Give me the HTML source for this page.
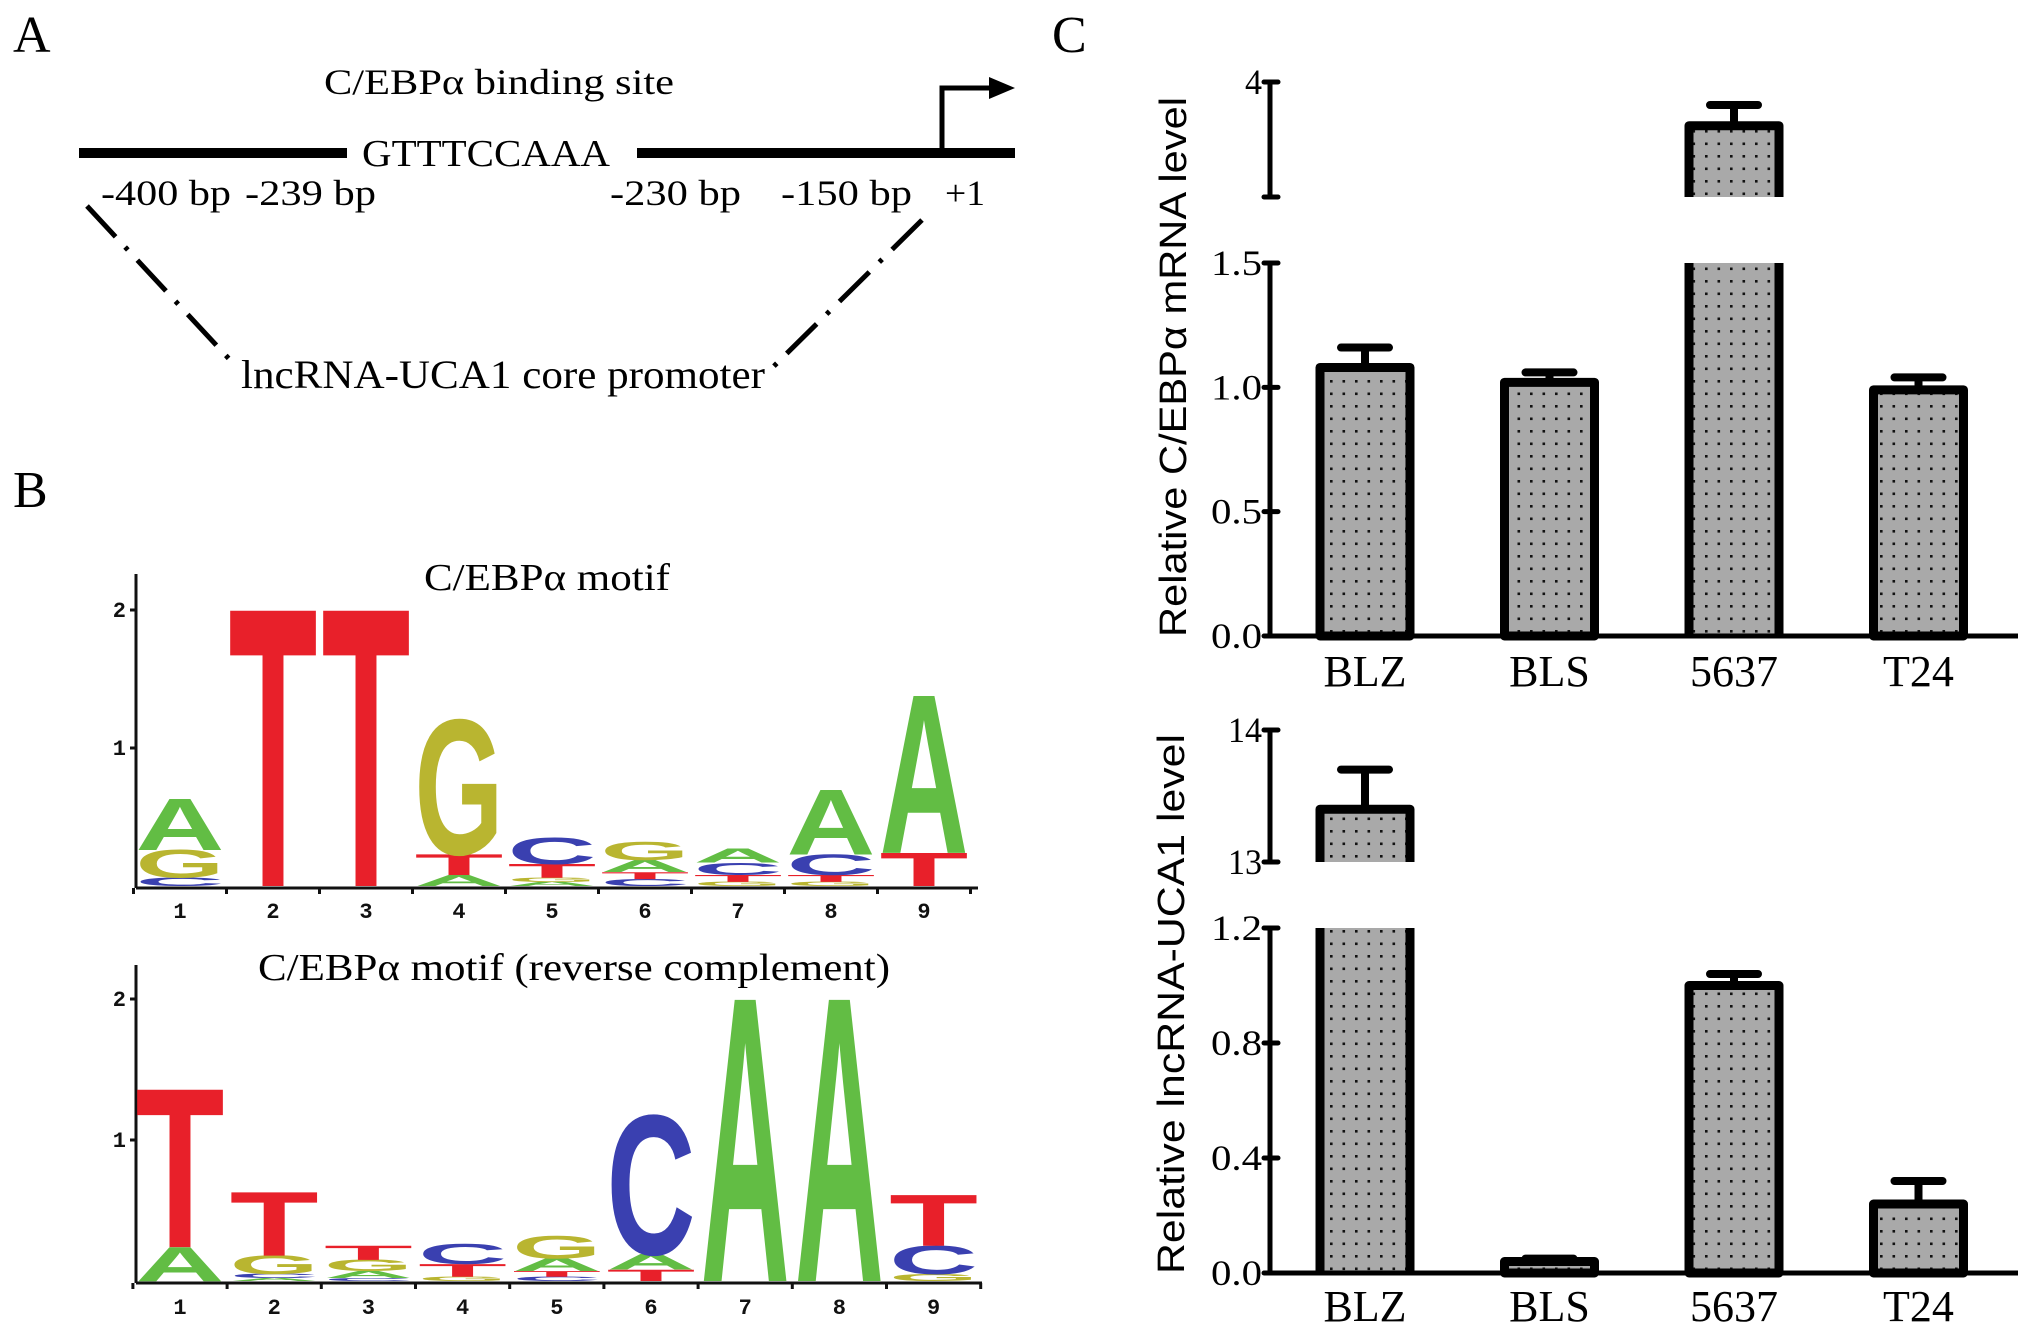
<!DOCTYPE html>
<html>
<head>
<meta charset="utf-8">
<style>
html,body{margin:0;padding:0;background:#fff;}
svg{display:block;}
.serif{font-family:"Liberation Serif",serif;fill:#000;}
.sans{font-family:"Liberation Sans",sans-serif;fill:#000;}
.mono{font-family:"Liberation Mono",monospace;font-weight:bold;fill:#111;}
</style>
</head>
<body>
<svg id="fig" width="2031" height="1337" viewBox="0 0 2031 1337" xmlns="http://www.w3.org/2000/svg">
<defs>
<pattern id="dots" width="12.5" height="12.5" patternUnits="userSpaceOnUse">
<rect width="12.5" height="12.5" fill="#a9a9a9"/>
<rect x="5" y="5" width="2.6" height="2.6" fill="#111"/>
</pattern>
</defs>

<!-- Panel A -->
<g>
<text class="serif" x="13" y="52" font-size="52">A</text>
<text class="serif" x="324" y="94" font-size="36" textLength="350" lengthAdjust="spacingAndGlyphs">C/EBPα binding site</text>
<rect x="79" y="148" width="268" height="10" fill="#000"/>
<text class="serif" x="362" y="166" font-size="38" textLength="248" lengthAdjust="spacingAndGlyphs">GTTTCCAAA</text>
<rect x="637" y="148" width="378" height="10" fill="#000"/>
<path d="M942 150 V88 H992" stroke="#000" stroke-width="5" fill="none"/>
<polygon points="989,77 1015,88 989,99" fill="#000"/>
<text class="serif" x="101" y="205" font-size="36" textLength="130" lengthAdjust="spacingAndGlyphs">-400 bp</text>
<text class="serif" x="245" y="205" font-size="36" textLength="131" lengthAdjust="spacingAndGlyphs">-239 bp</text>
<text class="serif" x="610" y="205" font-size="36" textLength="131" lengthAdjust="spacingAndGlyphs">-230 bp</text>
<text class="serif" x="781" y="205" font-size="36" textLength="131" lengthAdjust="spacingAndGlyphs">-150 bp</text>
<text class="serif" x="945" y="205" font-size="36" textLength="40" lengthAdjust="spacingAndGlyphs">+1</text>
<line x1="87" y1="206" x2="231" y2="361" stroke="#000" stroke-width="5" stroke-dasharray="42 14 4 14"/>
<line x1="922" y1="220" x2="771" y2="369" stroke="#000" stroke-width="5" stroke-dasharray="42 14 4 14"/>
<text class="serif" x="241" y="388" font-size="40" textLength="524" lengthAdjust="spacingAndGlyphs">lncRNA-UCA1 core promoter</text>
</g>

<!-- Panel B -->
<g>
<text class="serif" x="13" y="507" font-size="52">B</text>
<text class="serif" x="424" y="590" font-size="38" textLength="246" lengthAdjust="spacingAndGlyphs">C/EBPα motif</text>
<text class="serif" x="258" y="980" font-size="38" textLength="632" lengthAdjust="spacingAndGlyphs">C/EBPα motif (reverse complement)</text>
<g id="logo1"></g>
<g id="logo2"></g>
</g>

<!-- Panel C -->
<g>
<text class="serif" x="1052" y="52" font-size="52">C</text>
<g id="chart1"></g>
<g id="chart2"></g>
</g>
</svg>

<script>
// ---------- Bar chart data ----------
const categories = ['BLZ', 'BLS', '5637', 'T24'];
const mrnaValues = [1.08, 1.02, 3.62, 0.99];
const mrnaErrors = [0.08, 0.04, 0.18, 0.05];
const mrnaLowTicks = [0, 0.5, 1.0, 1.5];
const mrnaLowTickLabels = ['0.0', '0.5', '1.0', '1.5'];
const mrnaHighTicks = [3, 4];
const mrnaHighTickLabels = ['', '4'];
const ucaValues = [13.4, 0.04, 1.0, 0.24];
const ucaErrors = [0.3, 0.01, 0.04, 0.08];
const ucaLowTicks = [0, 0.4, 0.8, 1.2];
const ucaLowTickLabels = ['0.0', '0.4', '0.8', '1.2'];
const ucaHighTicks = [13, 14];
const ucaHighTickLabels = ['13', '14'];

// ---------- Sequence logo data (bottom-up stacks, bits) ----------
const motifLetters = [
  ['C','G','A'], ['T'], ['T'], ['A','T','G'], ['A','G','T','C'],
  ['C','T','A','G'], ['G','T','C','A'], ['G','T','C','A'], ['T','A']
];
const motifHeights = [
  [0.06,0.2,0.37], [2.0], [2.0], [0.08,0.15,0.97], [0.03,0.03,0.1,0.19],
  [0.05,0.05,0.09,0.13], [0.03,0.05,0.09,0.1], [0.03,0.05,0.15,0.47], [0.24,1.14]
];
const revLetters = [
  ['A','T'], ['A','C','G','T'], ['C','A','G','T'], ['G','T','C'], ['C','T','A','G'],
  ['T','A','C'], ['A'], ['A'], ['G','C','T']
];
const revHeights = [
  [0.24,1.12], [0.02,0.03,0.13,0.45], [0.02,0.05,0.08,0.1], [0.03,0.09,0.14], [0.03,0.04,0.09,0.16],
  [0.08,0.11,0.98], [2.0], [2.0], [0.05,0.2,0.36]
];
const positions = ['1','2','3','4','5','6','7','8','9'];
const logoTicks = [1, 2];

const NS = 'http://www.w3.org/2000/svg';
const letterColor = {A:'#62bd44', C:'#3a40b0', G:'#b9b530', T:'#e8202a'};

function mk(parent, tag, attrs) {
  const e = document.createElementNS(NS, tag);
  for (const k in attrs) e.setAttribute(k, attrs[k]);
  parent.appendChild(e);
  return e;
}

function drawLogo(gid, letters, heights, cfg) {
  const g = document.getElementById(gid);
  const y = v => cfg.base - v * cfg.unit;
  const xc = i => cfg.x0 + i * cfg.step;
  const ya = mk(g, 'line', {x1: cfg.axisX, y1: cfg.top, x2: cfg.axisX, y2: cfg.base + 2, stroke: '#111', 'stroke-width': 3});
  
  
  const xa = mk(g, 'line', {x1: cfg.axisX, y1: cfg.base + 2, x2: cfg.axisEnd, y2: cfg.base + 2, stroke: '#111', 'stroke-width': 3});
  
  
  logoTicks.forEach(t => {
    mk(g, 'line', {x1: cfg.axisX - 6, y1: y(t), x2: cfg.axisX, y2: y(t), stroke: '#111', 'stroke-width': 3});
    const tl = mk(g, 'text', {x: cfg.axisX - 10, y: y(t) + 7, 'text-anchor': 'end', 'font-size': 22, class: 'mono'});
    tl.textContent = String(t);
    
    
  });
  for (let i = 0; i <= positions.length; i++) {
    const bx = xc(i) - cfg.step / 2;
    mk(g, 'line', {x1: bx, y1: cfg.base + 2, x2: bx, y2: cfg.base + 8, stroke: '#111', 'stroke-width': 3});
  }
  positions.forEach((p, i) => {
    const t = mk(g, 'text', {x: xc(i), y: cfg.labelY, 'text-anchor': 'middle', 'font-size': 22, class: 'mono'});
    t.textContent = p;
    
    
  });
  letters.forEach((col, i) => {
    let acc = 0;
    col.forEach((L, j) => {
      const h = heights[i][j];
      const yb = y(acc);
      acc += h;
      const t = mk(g, 'text', {x: 0, y: 0, 'font-size': 100, 'font-family': '"Liberation Sans", sans-serif', 'font-weight': 'bold', fill: letterColor[L]});
      t.textContent = L;
      
      
      const bb = t.getBBox();
      const inkW = bb.width * 0.9;
      const sx = cfg.w / inkW;
      const sy = (h * cfg.unit) / 69;
      const left = xc(i) - cfg.w / 2 - bb.x * sx - bb.width * 0.05 * sx;
      t.setAttribute('transform', 'translate(' + left + ',' + yb + ') scale(' + sx + ',' + sy + ')');
    });
  });
}

drawLogo('logo1', motifLetters, motifHeights, {x0: 180, step: 93, w: 80, base: 886, unit: 138, axisX: 136, axisEnd: 978, top: 574, labelY: 918});
drawLogo('logo2', revLetters, revHeights, {x0: 180, step: 94.2, w: 80, base: 1281, unit: 141, axisX: 136, axisEnd: 982, top: 965, labelY: 1314});

function drawBars(gid, vals, errs, lowTicks, lowLabels, highTicks, highLabels, cfg, title) {
  const g = document.getElementById(gid);
  const lowMax = lowTicks[lowTicks.length - 1];
  const hiMin = highTicks[0], hiMax = highTicks[highTicks.length - 1];
  function y(v) {
    if (v <= lowMax) return cfg.y0 - (v / lowMax) * (cfg.y0 - cfg.yLowTop);
    return cfg.yHiBot - ((v - hiMin) / (hiMax - hiMin)) * (cfg.yHiBot - cfg.yHiTop);
  }
  const xc = i => cfg.x0 + i * cfg.step;
  const bw = cfg.bw;
  vals.forEach((v, i) => {
    const l = xc(i) - bw / 2, r = xc(i) + bw / 2;
    const e = errs[i];
    const bar = mk(g, 'g', {});
    
    
    const sw = 9;
    if (v > lowMax) {
      mk(bar, 'rect', {x: l, y: y(lowMax), width: bw, height: y(0) - y(lowMax), fill: 'url(#dots)'});
      mk(bar, 'path', {d: 'M' + l + ' ' + y(0) + ' V' + y(lowMax) + ' M' + r + ' ' + y(0) + ' V' + y(lowMax), stroke: '#000', 'stroke-width': sw, fill: 'none'});
      mk(bar, 'rect', {x: l, y: y(v), width: bw, height: y(hiMin) - y(v), fill: 'url(#dots)'});
      mk(bar, 'path', {d: 'M' + l + ' ' + y(hiMin) + ' V' + y(v) + ' H' + r + ' V' + y(hiMin), stroke: '#000', 'stroke-width': sw, fill: 'none', 'stroke-linejoin': 'round'});
    } else {
      mk(bar, 'rect', {x: l, y: y(v), width: bw, height: y(0) - y(v), fill: 'url(#dots)', stroke: '#000', 'stroke-width': sw, 'stroke-linejoin': 'round'});
    }
    const eb = mk(g, 'path', {d: 'M' + xc(i) + ' ' + y(v) + ' V' + y(v + e) + ' M' + (xc(i) - 24) + ' ' + y(v + e) + ' H' + (xc(i) + 24), stroke: '#000', 'stroke-width': 8, 'stroke-linecap': 'round', fill: 'none'});
    
    
    const lab = mk(g, 'text', {x: xc(i), y: cfg.labelY, 'text-anchor': 'middle', 'font-size': 44, class: 'serif'});
    lab.textContent = categories[i];
    
    
  });
  const ax = mk(g, 'path', {d: 'M' + cfg.ax + ' ' + y(0) + ' V' + y(lowMax) + ' M' + cfg.ax + ' ' + y(hiMin) + ' V' + y(hiMax), stroke: '#000', 'stroke-width': 5, fill: 'none'});
  
  
  const xa = mk(g, 'line', {x1: cfg.ax, y1: y(0), x2: cfg.axEnd, y2: y(0), stroke: '#000', 'stroke-width': 5});
  
  
  function tick(v, label) {
    mk(g, 'line', {x1: cfg.ax - 6, y1: y(v), x2: cfg.ax + 8, y2: y(v), stroke: '#000', 'stroke-width': 5, 'stroke-linecap': 'round'});
    if (label) {
      const t = mk(g, 'text', {x: cfg.ax - 8, y: y(v) + 12, 'text-anchor': 'end', 'font-size': 36, class: 'serif', textLength: label.length * 17, lengthAdjust: 'spacingAndGlyphs'});
      t.textContent = label;
      
      
    }
  }
  lowTicks.forEach((v, i) => tick(v, lowLabels[i]));
  highTicks.forEach((v, i) => tick(v, highLabels[i]));
  const tt = mk(g, 'text', {x: 0, y: 0, 'text-anchor': 'middle', 'font-size': 38, class: 'sans', transform: 'translate(' + cfg.titleX + ',' + cfg.titleY + ') rotate(-90)', textLength: cfg.titleLen, lengthAdjust: 'spacingAndGlyphs'});
  tt.textContent = title;
  
  
}

drawBars('chart1', mrnaValues, mrnaErrors, mrnaLowTicks, mrnaLowTickLabels, mrnaHighTicks, mrnaHighTickLabels,
  {x0: 1365, step: 184.5, bw: 90, y0: 636, yLowTop: 263, yHiBot: 197, yHiTop: 82, ax: 1270, axEnd: 2018, labelY: 686, titleX: 1186, titleY: 367, titleLen: 540},
  'Relative C/EBPα  mRNA level');
drawBars('chart2', ucaValues, ucaErrors, ucaLowTicks, ucaLowTickLabels, ucaHighTicks, ucaHighTickLabels,
  {x0: 1365, step: 184.5, bw: 90, y0: 1273, yLowTop: 928, yHiBot: 862, yHiTop: 730, ax: 1270, axEnd: 2018, labelY: 1321, titleX: 1184, titleY: 1004, titleLen: 540},
  'Relative lncRNA-UCA1 level');
</script>
</body>
</html>
